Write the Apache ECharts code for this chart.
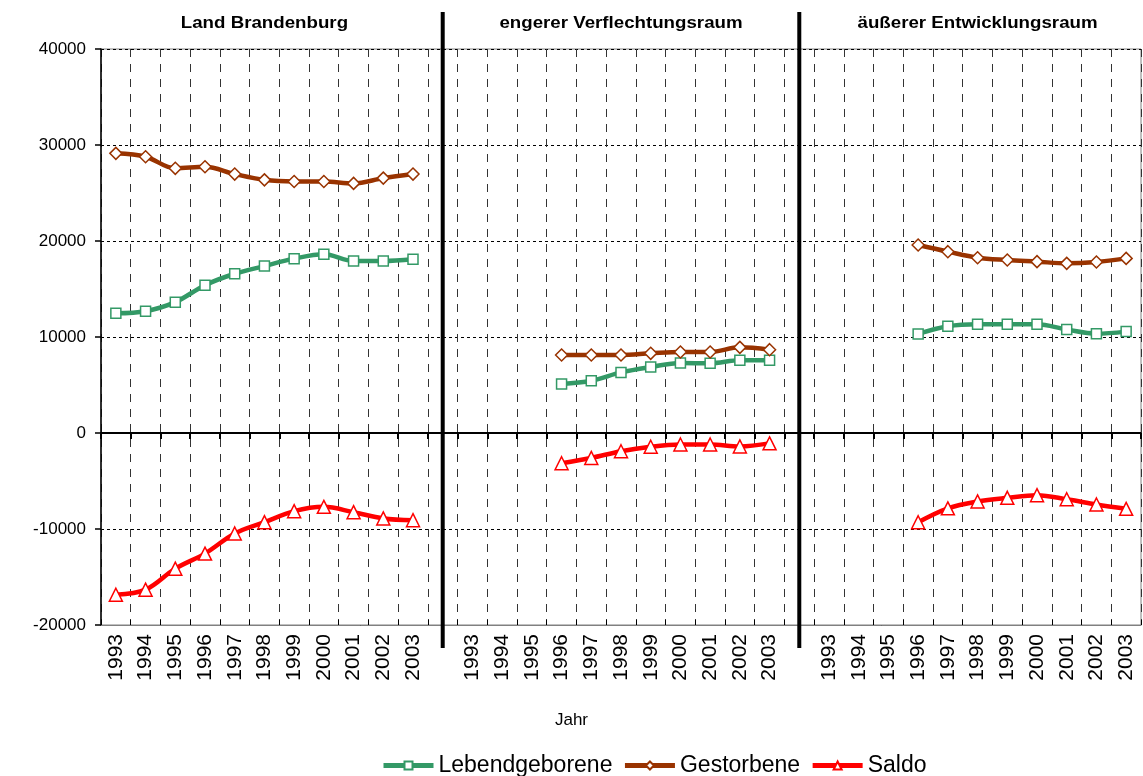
<!DOCTYPE html>
<html>
<head>
<meta charset="utf-8">
<script src="https://cdn.jsdelivr.net/npm/echarts@6/dist/echarts.min.js"></script>
<style>
html,body{margin:0;padding:0;background:#fff;}
#chart{width:1143px;height:776px;}
</style>
</head>
<body>
<div id="chart"></div>
<script>
// ---- data ----
const years = ['1993','1994','1995','1996','1997','1998','1999','2000','2001','2002','2003'];
const groupTitles = ['Land Brandenburg', 'engerer Verflechtungsraum', 'äußerer Entwicklungsraum'];
const seriesNames = ['Lebendgeborene', 'Gestorbene', 'Saldo'];
const yTicks = [-20000, -10000, 0, 10000, 20000, 30000, 40000];

const lbLebend = [12480, 12690, 13630, 15400, 16590, 17390, 18160, 18610, 17910, 17910, 18090];
const lbGest   = [29130, 28780, 27570, 27730, 26970, 26370, 26200, 26200, 26000, 26550, 26970];
const lbSaldo  = [-16850, -16320, -14130, -12560, -10470, -9290, -8140, -7690, -8250, -8900, -9080];

const evLebend = [null, null, null, 5100, 5440, 6310, 6870, 7290, 7260, 7570, 7570];
const evGest   = [null, null, null, 8130, 8130, 8130, 8300, 8440, 8440, 8920, 8680];
const evSaldo  = [null, null, null, -3150, -2600, -1900, -1430, -1200, -1200, -1400, -1080];

const aeLebend = [null, null, null, 10320, 11120, 11330, 11330, 11330, 10770, 10350, 10560];
const aeGest   = [null, null, null, 19580, 18890, 18260, 18020, 17850, 17670, 17810, 18190];
const aeSaldo  = [null, null, null, -9300, -7850, -7130, -6750, -6480, -6900, -7450, -7900];

// ---- build ----
const categories = [...years, '', ...years, '', ...years];
const join = (a, b, c) => [...a, null, ...b, null, ...c];
const seriesData = [
  join(lbLebend, evLebend, aeLebend),
  join(lbGest, evGest, aeGest),
  join(lbSaldo, evSaldo, aeSaldo)
];
const colors = ['#339966', '#993300', '#FF0000'];
const symbols = ['rect', 'diamond', 'triangle'];
const symbolSizes = [10, 12, 13];

const FONT = 'Liberation Sans, Arial, sans-serif';
const chart = echarts.init(document.getElementById('chart'), null, {renderer: 'canvas'});

const option = {
  animation: false,
  backgroundColor: '#fff',
  textStyle: {fontFamily: FONT, color: '#000'},
  grid: {left: 101, right: 2, top: 49, bottom: 151, show: true, borderColor: '#808080', borderWidth: 1, backgroundColor: 'transparent'},
  legend: {
    data: seriesNames,
    left: 376,
    top: 749,
    itemWidth: 50,
    itemHeight: 10,
    itemGap: 10,
    lineStyle: {width: 5},
    textStyle: {fontFamily: FONT, fontSize: 23, color: '#000'}
  },
  xAxis: [
    {
      type: 'category',
      data: categories,
      boundaryGap: true,
      position: 'bottom',
      axisLine: {show: true, onZero: false, lineStyle: {color: '#808080', width: 1}},
      axisTick: {show: true, inside: true, length: 5, interval: 0, lineStyle: {color: '#000'}},
      axisLabel: {show: true, interval: 0, rotate: 90, margin: 9, fontSize: 21, color: '#000', fontFamily: FONT},
      splitLine: {show: true, interval: 0, lineStyle: {color: '#333', type: [8, 7], width: 1}}
    },
    {
      type: 'category',
      data: categories,
      boundaryGap: true,
      position: 'bottom',
      axisLine: {show: true, onZero: true, onZeroAxisIndex: 0, lineStyle: {color: '#000', width: 2}},
      axisTick: {show: true, inside: false, length: 6, interval: 0, lineStyle: {color: '#000', width: 2}},
      axisLabel: {show: false},
      splitLine: {show: false}
    }
  ],
  yAxis: {
    type: 'value',
    min: -20000,
    max: 40000,
    interval: 10000,
    axisLine: {show: true, lineStyle: {color: '#000', width: 1.5}},
    axisTick: {show: true, length: 6, lineStyle: {color: '#000', width: 1.5}},
    axisLabel: {fontSize: 17, color: '#000', margin: 15, fontFamily: FONT,
      formatter: v => yTicks.includes(v) ? String(v) : ''},
    splitLine: {show: true, lineStyle: {color: '#000', type: [3, 3], width: 1}}
  },
  series: seriesNames.map((name, i) => ({
    name: name,
    type: 'line',
    xAxisIndex: 0,
    yAxisIndex: 0,
    data: seriesData[i],
    connectNulls: false,
    smooth: 0.35,
    symbol: symbols[i],
    symbolSize: symbolSizes[i],
    showSymbol: true,
    lineStyle: {color: colors[i], width: 4.5},
    itemStyle: {color: '#fff', borderColor: colors[i], borderWidth: 1.5},
    emphasis: {disabled: true},
    z: 3 + i
  }))
};
chart.setOption(option);

// separators and group titles positioned through the axis scale
const sepIdx = [years.length, years.length * 2 + 1];
const titleIdx = [5, years.length + 1 + 5, (years.length + 1) * 2 + 5];
const graphics = [];
sepIdx.forEach(idx => {
  const x = chart.convertToPixel({xAxisIndex: 0}, idx);
  graphics.push({type: 'line', shape: {x1: x, y1: 12, x2: x, y2: 648}, style: {stroke: '#000', lineWidth: 4}, z: 100});
});
titleIdx.forEach((idx, i) => {
  const x = chart.convertToPixel({xAxisIndex: 0}, idx);
  graphics.push({type: 'text', x: x, y: 23, scaleX: 1.1, style: {text: groupTitles[i], font: 'bold 17px ' + FONT, fill: '#000', align: 'center', verticalAlign: 'middle'}, z: 100});
});
graphics.push({type: 'text', x: chart.getWidth() / 2, y: 720, style: {text: 'Jahr', font: '17px ' + FONT, fill: '#000', align: 'center', verticalAlign: 'middle'}, z: 100});
chart.setOption({graphic: graphics});
</script>
</body>
</html>
